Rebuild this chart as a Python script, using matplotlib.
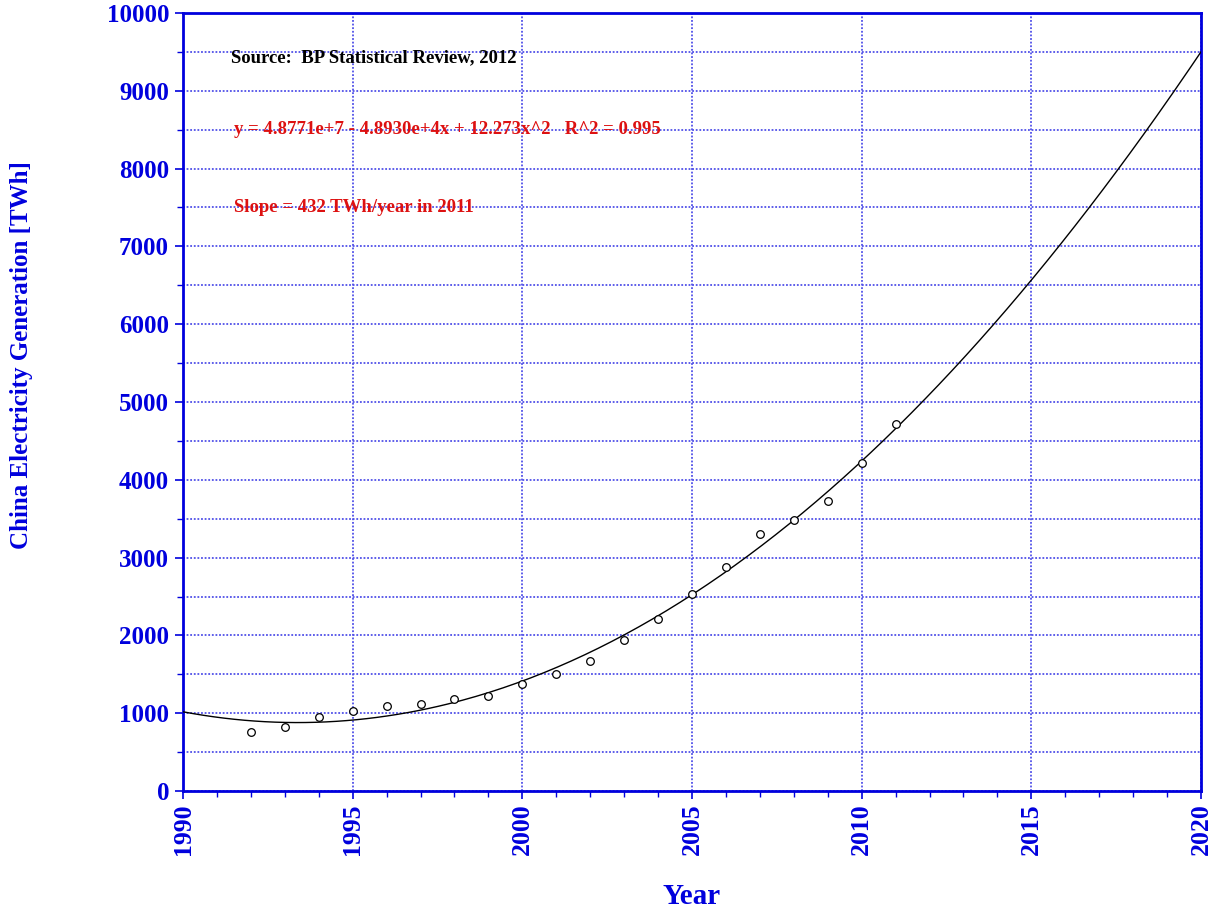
import numpy as np
import matplotlib
matplotlib.use("Agg")
import matplotlib.pyplot as plt
from matplotlib.ticker import MultipleLocator

# China electricity generation (TWh)
years = [1992, 1993, 1994, 1995, 1996, 1997, 1998, 1999, 2000, 2001,
         2002, 2003, 2004, 2005, 2006, 2007, 2008, 2009, 2010, 2011]
twh = [760, 823, 951, 1028, 1093, 1118, 1183, 1221, 1375, 1504,
       1671, 1941, 2211, 2532, 2879, 3303, 3483, 3727, 4216, 4717]

source_text = "Source:  BP Statistical Review, 2012"
fit_text = "y = 4.8771e+7 - 4.8930e+4x + 12.273x^2   R^2 = 0.995"
slope_text = "Slope = 432 TWh/year in 2011"
ylabel_text = "China Electricity Generation [TWh]"

blue = "#0000dd"
grid_blue = "#5050e8"
red = "#dd1111"

plt.rcParams["font.family"] = ["Liberation Serif", "DejaVu Serif"]

fig = plt.figure(figsize=(12.11, 9.11), dpi=100)
ax = fig.add_axes([183 / 1211, 1 - 791 / 911, 1018 / 1211, 778 / 911])

# quadratic fit of the data points, drawn out to 2020
coef = np.polyfit(years, twh, 2)
xfit = np.linspace(1990, 2020, 300)
ax.plot(xfit, np.polyval(coef, xfit), color="black", lw=1.0, zorder=3)

ax.plot(years, twh, linestyle="none", marker="o", markersize=5.5,
        markerfacecolor="white", markeredgecolor="black", markeredgewidth=0.9,
        zorder=4)

ax.set_xlim(1990, 2020)
ax.set_ylim(0, 10000)
ax.xaxis.set_major_locator(MultipleLocator(5))
ax.xaxis.set_minor_locator(MultipleLocator(1))
ax.yaxis.set_major_locator(MultipleLocator(1000))
ax.yaxis.set_minor_locator(MultipleLocator(500))

ax.grid(True, axis="x", which="major", color=grid_blue, lw=1.3,
        linestyle=(0, (1, 1)))
ax.grid(True, axis="y", which="both", color=grid_blue, lw=1.3,
        linestyle=(0, (1, 1)))
ax.set_axisbelow(True)

for s in ax.spines.values():
    s.set_color(blue)
    s.set_linewidth(2)

ax.tick_params(axis="both", which="both", colors=blue, direction="out")
ax.tick_params(axis="both", which="major", length=6, width=1.2)
ax.tick_params(axis="both", which="minor", length=4, width=1.0)
ax.tick_params(axis="y", labelsize=18, pad=4)
ax.tick_params(axis="x", labelsize=18.5, pad=3, labelrotation=90)
for lab in ax.get_xticklabels() + ax.get_yticklabels():
    lab.set_fontweight("bold")
    lab.set_color(blue)

ax.set_xlabel("Year", fontsize=21, fontweight="bold", color=blue, labelpad=20)
fig.text(22 / 1211, 1 - 355 / 911, ylabel_text, rotation=90, ha="center",
         va="center", fontsize=18, fontweight="bold", color=blue)

ax.text(1991.4, 9430, source_text, fontsize=13.5, fontweight="bold",
        color="black", va="center")
ax.text(1991.5, 8500, fit_text, fontsize=13.5, fontweight="bold",
        color=red, va="center")
ax.text(1991.5, 7500, slope_text, fontsize=13.5, fontweight="bold",
        color=red, va="center")

fig.savefig("out.png", dpi=100)
